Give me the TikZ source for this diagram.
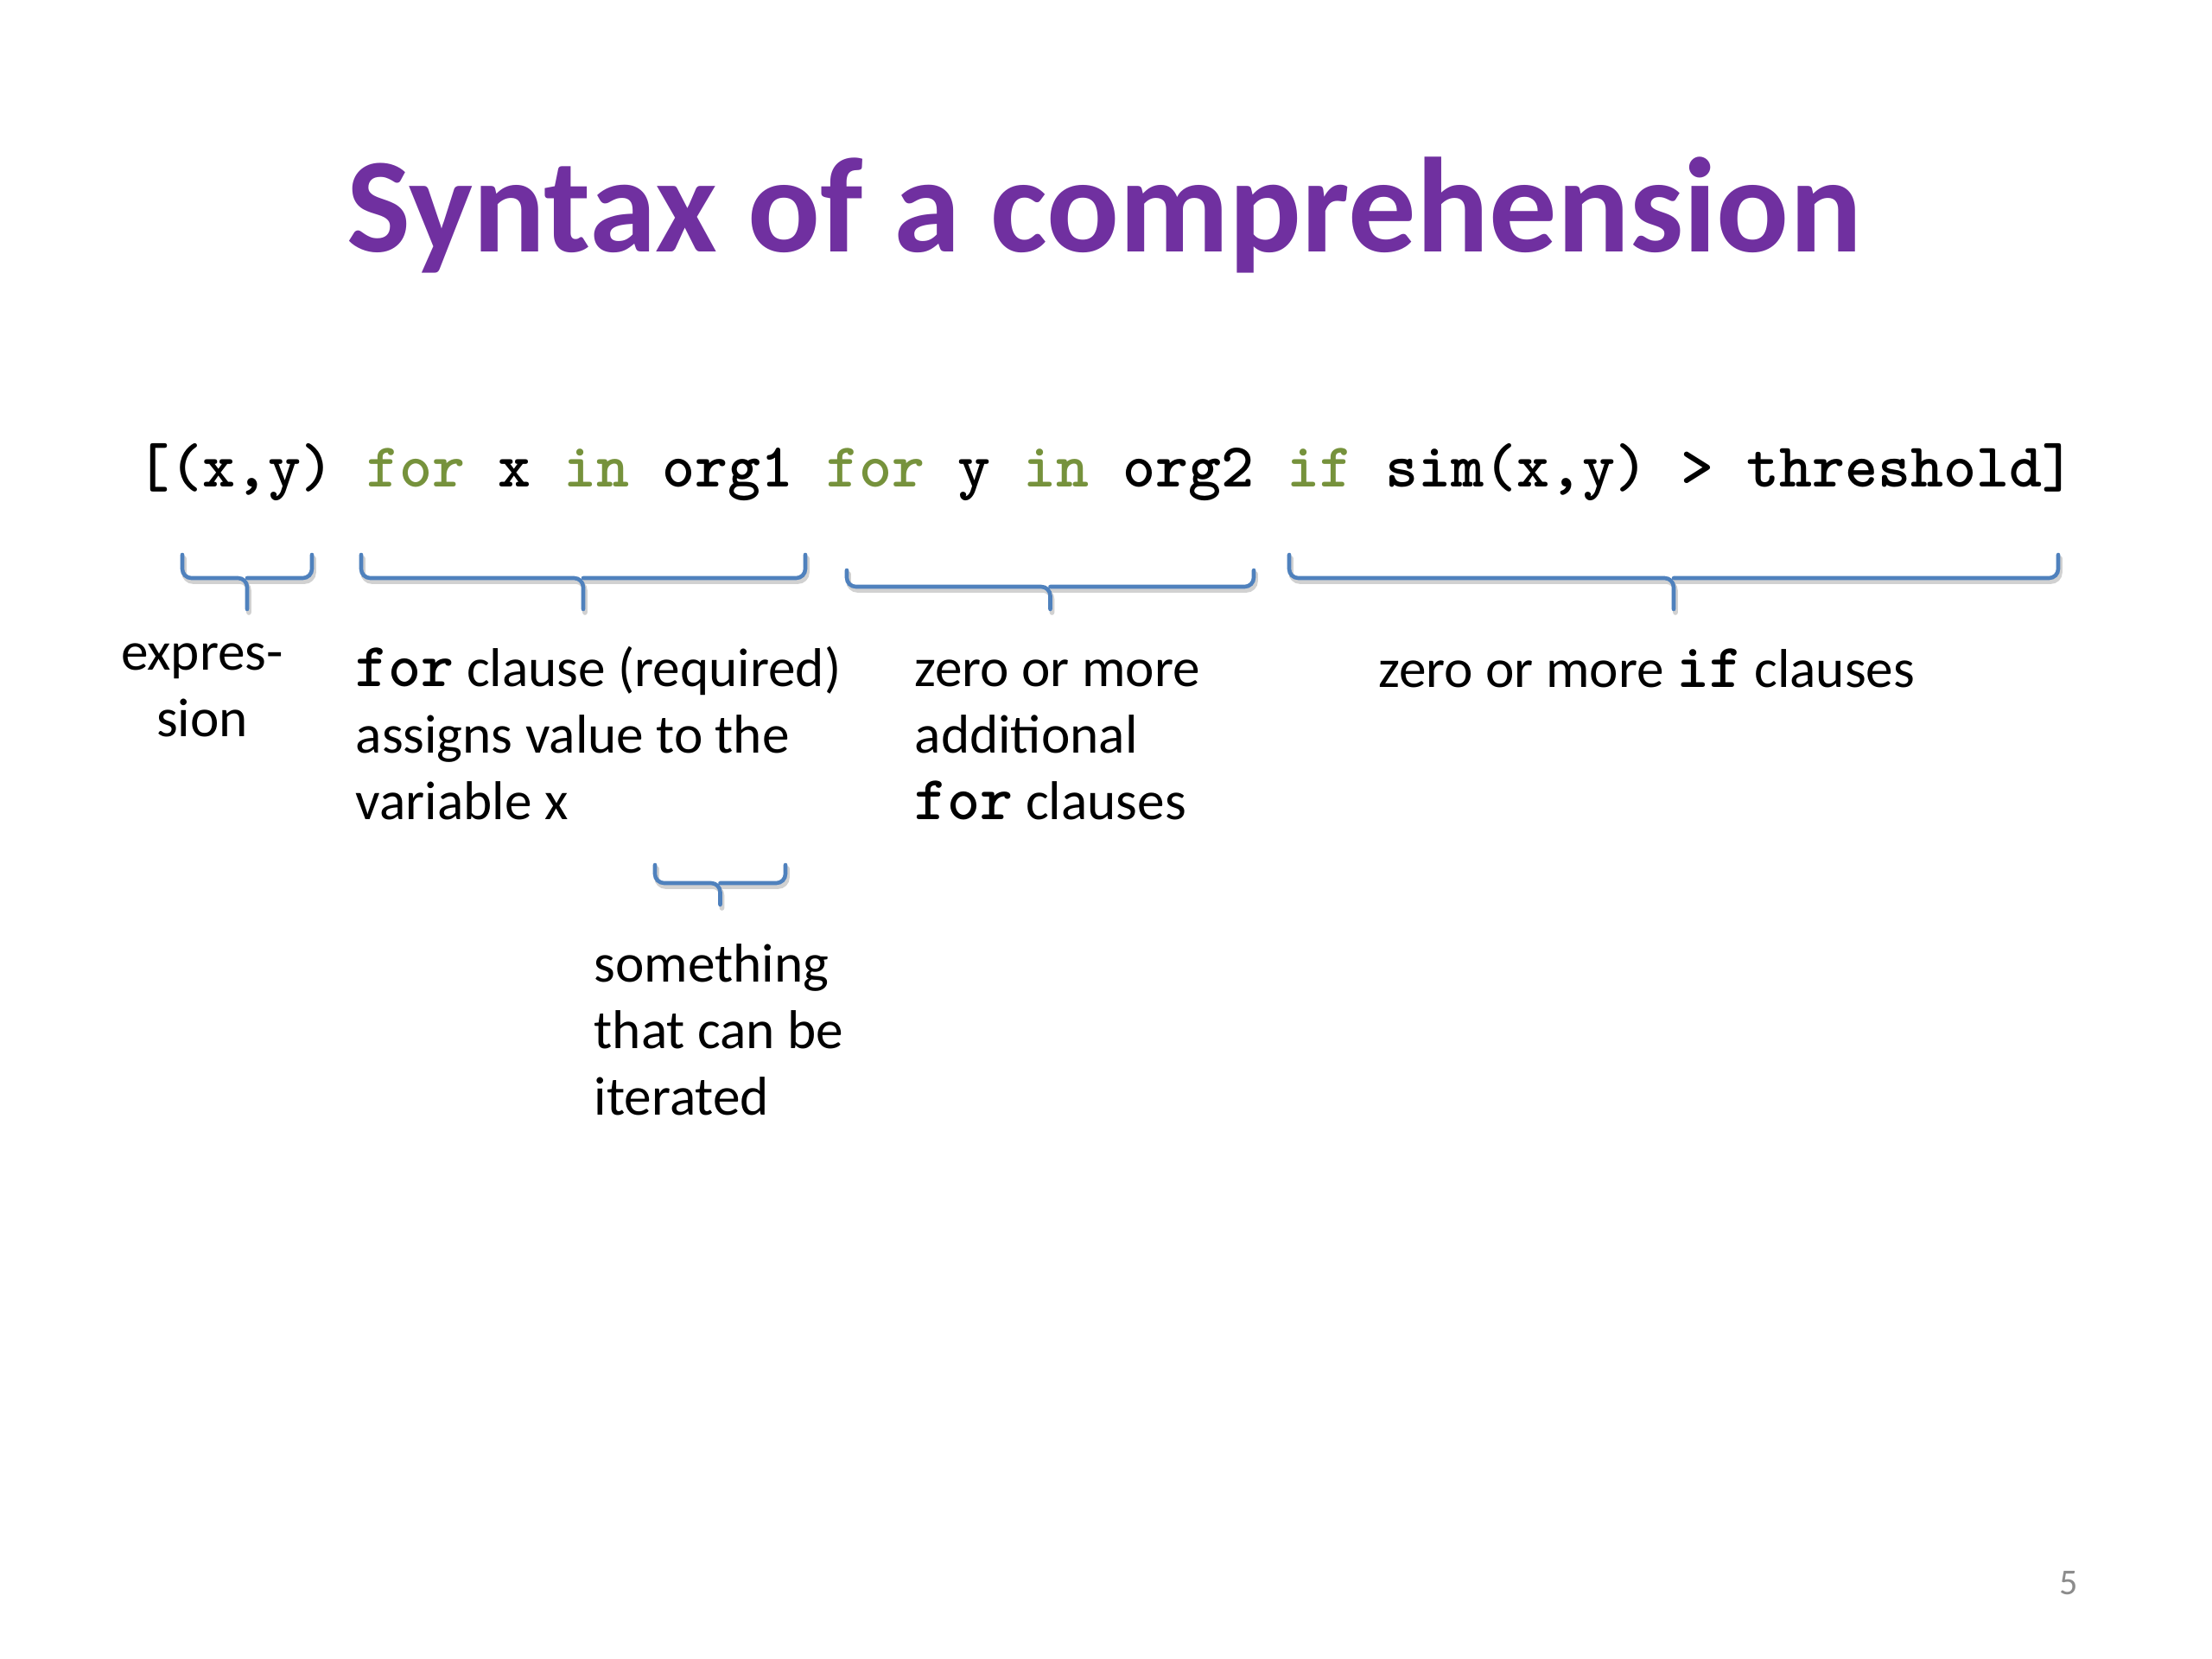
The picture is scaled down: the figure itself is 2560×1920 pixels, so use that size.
\documentclass[tikz,border=0pt]{standalone}
\usepackage{fontspec}
\setmainfont{Carlito}
\definecolor{titlepurple}{HTML}{7030A0}
\definecolor{kwgreen}{HTML}{76923C}
\definecolor{braceblue}{HTML}{4F81BD}
\definecolor{pagegray}{HTML}{8C8C8C}
\newcommand{\kw}[1]{\textcolor{kwgreen}{#1}}
\newcommand{\kwb}[1]{{\ttfamily\bfseries\fontsize{20.6}{21.8}\selectfont #1}}
\begin{document}
\begin{tikzpicture}[x=0.1mm,y=-0.1mm,
  titletext/.style={font=\fontsize{44.5}{50}\selectfont\bfseries, text=titlepurple, inner sep=0pt, anchor=base},
  codetext/.style={font=\ttfamily\bfseries\fontsize{20.6}{22}\selectfont, inner sep=0pt, anchor=base},
  lbl/.style={font=\fontsize{18}{21.8}\selectfont, inner sep=0pt, anchor=base west, align=left},
  bracepath/.style={draw=braceblue, line width=1.3pt, rounded corners=3pt, line cap=round},
  braceshadow/.style={draw=black!18, line width=1.6pt, rounded corners=3pt, line cap=round}]
\useasboundingbox[fill=white] (0,0) rectangle (2560,1920);

\node[titletext] (title) at (1278,291) {Syntax of a comprehension};

\node[codetext] (code) at (1280,563) {[(x,y) \kw{for} x \kw{in} org1 \kw{for} y \kw{in} org2 \kw{if} sim(x,y) > threshold]};

% braces: left x, right x, top y, horizontal y, tick bottom y
\foreach \xa/\xb/\yt/\yh/\yb in {211/361/642/669/705, 418/932/642/669/705, 980/1451/660/679/705, 1492/2382/642/669/705, 758/909/1001/1022/1047}{
  \pgfmathsetmacro{\xc}{(\xa+\xb)/2}
  \draw[braceshadow] (\xa+2,\yt+4) -- (\xa+2,\yh+4) -- (\xc+2,\yh+4) -- (\xc+2,\yb+4);
  \draw[braceshadow] (\xb+2,\yt+4) -- (\xb+2,\yh+4) -- (\xc+2,\yh+4);
  \draw[bracepath] (\xa,\yt) -- (\xa,\yh) -- (\xc,\yh) -- (\xc,\yb);
  \draw[bracepath] (\xb,\yt) -- (\xb,\yh) -- (\xc,\yh);
}

% multi-line nodes: anchor at the baseline of the last line
\node[lbl, anchor=base, align=center] (expr) at (234,852) {expres-\\sion};
\node[lbl] (forreq) at (411,948) {\kwb{for} clause (required)\\assigns value to the\\variable x};
\node[lbl] (morefor) at (1058,948) {zero or more\\additional\\\kwb{for} clauses};
\node[lbl] (moreif) at (1595,795) {zero or more \kwb{if} clauses};
\node[lbl] (iter) at (687,1290) {something\\that can be\\iterated};

\node[font=\fontsize{12}{14}\selectfont, text=pagegray, inner sep=0pt, anchor=base] (page) at (2394,1845) {5};
\end{tikzpicture}
\end{document}
